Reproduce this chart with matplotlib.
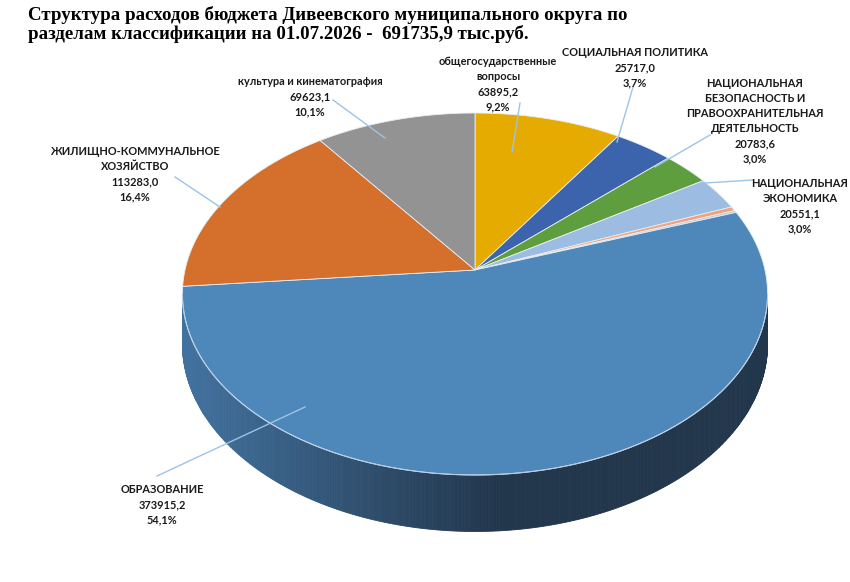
import numpy as np
import matplotlib
matplotlib.use("Agg")
import matplotlib.pyplot as plt
from matplotlib.patches import Polygon
from matplotlib.colors import to_rgb

# ---------------- data ----------------
categories = [
    "общегосударственные\nвопросы",
    "СОЦИАЛЬНАЯ ПОЛИТИКА",
    "НАЦИОНАЛЬНАЯ\nБЕЗОПАСНОСТЬ И\nПРАВООХРАНИТЕЛЬНАЯ\nДЕЯТЕЛЬНОСТЬ",
    "НАЦИОНАЛЬНАЯ\nЭКОНОМИКА",
    "прочие разделы 1",
    "прочие разделы 2",
    "ОБРАЗОВАНИЕ",
    "ЖИЛИЩНО-КОММУНАЛЬНОЕ\nХОЗЯЙСТВО",
    "культура и кинематография",
]
values = [63895.2, 25717.0, 20783.6, 20551.1, 2600.0, 1367.7, 373915.2, 113283.0, 69623.1]
show_label = [True, True, True, True, False, False, True, True, True]
colors = ["#e5ab00", "#3b64ad", "#5f9e3e", "#9cbce2", "#f1a27c", "#c9c9c9",
          "#4e88bb", "#d4702b", "#939393"]

# ---------------- layout (pixels) ----------------
W, H = 850, 582
X0, Y0 = 475.0, 270.0          # apex of the pie
A, B, K = 290.0, 177.8, 0.1326  # perspective ellipse parameters
DEPTH = 49.0
label_pos = [(498, 84), (635, 68), (755, 121), (800, 206), None, None,
             (162, 505), (135, 174), (310, 97)]
leaders = [((520, 103), (512, 152)), ((633, 87), (617, 142)), ((710, 135), (655, 167)),
           ((753, 180), (705, 183)), None, None,
           ((157, 476), (305, 407)), ((175, 177), (220, 207)), ((333, 100), (385, 138))]


def proj(theta_deg, r=1.0, drop=0.0):
    t = np.radians(theta_deg)
    w = 1 + K * r * np.cos(t)
    x = X0 + A * r * np.sin(t) / w
    y = Y0 - B * r * np.cos(t) / w + drop / w
    return x, y


fig = plt.figure(figsize=(W / 100, H / 100), dpi=100)
ax = fig.add_axes([0, 0, 1, 1])
ax.set_xlim(0, W)
ax.set_ylim(H, 0)
ax.axis("off")

total = sum(values)
fr = np.array(values) / total
ends = np.cumsum(fr) * 360.0
starts = ends - fr * 360.0

# visible side range
sil1 = np.degrees(np.arccos(-K))
sil2 = 360.0 - sil1


def side_color(base, x):
    left = np.array(to_rgb("#41719e"))
    mid = np.array(to_rgb("#2e4c6a"))
    right = np.array(to_rgb("#22364c"))
    b = np.array(to_rgb(base))
    if x < 380:
        f = max(0.0, (x - 190) / 190.0)
        c = left * (1 - f) + mid * f
    elif x < 500:
        f = (x - 380) / 120.0
        c = mid * (1 - f) + right * f
    else:
        c = right
    ref = np.array(to_rgb("#4e88bb"))
    c = np.clip(c * (b / ref), 0, 1)
    return c


# side walls
for s, e, col in zip(starts, ends, colors):
    a1, a2 = max(s, sil1), min(e, sil2)
    if a2 <= a1:
        continue
    n = max(2, int((a2 - a1) / 0.5))
    th = np.linspace(a1, a2, n + 1)
    for i in range(n):
        tt = np.linspace(th[i], th[i + 1], 3)
        xt, yt = proj(tt)
        xb, yb = proj(tt[::-1], drop=DEPTH)
        pts = np.column_stack([np.r_[xt, xb], np.r_[yt, yb]])
        c = side_color(col, xt.mean())
        ax.add_patch(Polygon(pts, closed=True, facecolor=c, edgecolor=c, lw=0.6))

# top face
for s, e, col in zip(starts, ends, colors):
    n = max(4, int((e - s) / 0.5))
    tt = np.linspace(s, e, n + 1)
    xs, ys = proj(tt)
    pts = np.column_stack([np.r_[X0, xs], np.r_[Y0, ys]])
    ax.add_patch(Polygon(pts, closed=True, facecolor=col, edgecolor="#e8eef5", lw=0.6,
                         joinstyle="round"))

# front rim highlight
tt = np.linspace(sil1, sil2, 300)
xs, ys = proj(tt)
ax.plot(xs, ys, color="#b8cde3", lw=0.8)

# labels
for name, v, f, show, pos, ld in zip(categories, values, fr, show_label, label_pos, leaders):
    if not show:
        continue
    txt = f"{name}\n{v:.1f}".replace(".", ",") + "\n" + f"{f*100:.1f}%".replace(".", ",")
    ax.text(pos[0], pos[1], txt, ha="center", va="center", fontsize=7.9,
            fontweight="bold", family=["Lato", "DejaVu Sans"], color="#1a1a1a",
            linespacing=1.45)
    (x1, y1), (x2, y2) = ld
    ax.plot([x1, x2], [y1, y2], color="#9dc3e6", lw=1.0)

total_str = f"{total:.1f}".replace(".", ",")
title = ("Структура расходов бюджета Дивеевского муниципального округа по\n"
         "разделам классификации на 01.07.2026 -  " + total_str + " тыс.руб.")
ax.text(28, 6, title, ha="left", va="top", fontsize=13.6, fontweight="bold",
        family=["Liberation Serif", "DejaVu Serif"], color="black", linespacing=1.08)

fig.savefig("out.png", dpi=100)
